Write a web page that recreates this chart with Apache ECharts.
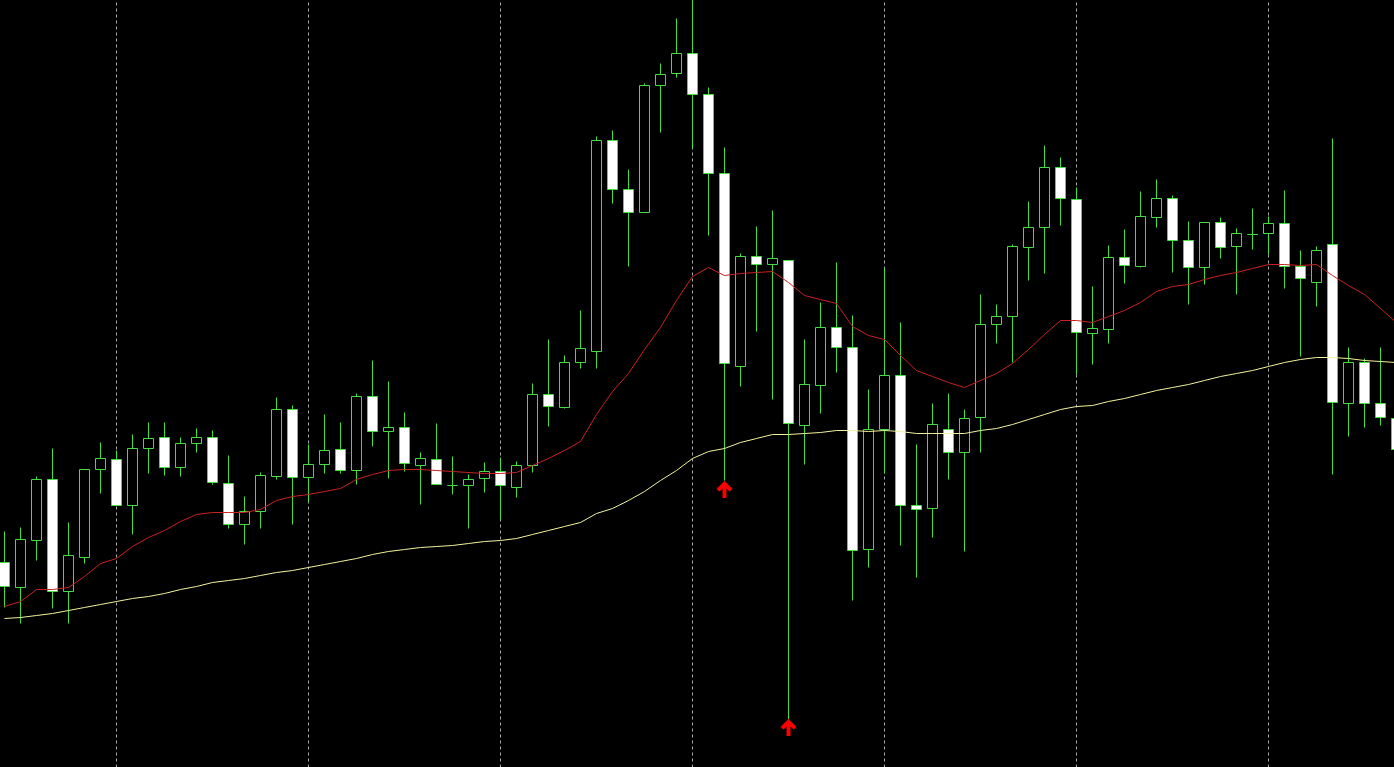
<!DOCTYPE html>
<html>
<head>
<meta charset="utf-8">
<style>
  html, body { margin: 0; padding: 0; background: #000; overflow: hidden; width: 1394px; height: 767px; }
  #chart { width: 1409px; height: 768px; margin-left: -4px; }
</style>
<script src="https://cdn.jsdelivr.net/npm/echarts@6/dist/echarts.min.js"></script>
</head>
<body>
<div id="chart"></div>
<script>
// Prices in points (no price scale is shown)
const opens = [238,213,260,321,209,243,331,341,295,352,363,333,357,363,317,276,289,324,391,323,336,351,330,404,369,373,335,341,315,315,322,329,313,335,406,393,438,449,660,611,588,715,727,747,706,627,434,544,536,540,375,415,473,453,251,371,425,295,292,371,348,383,476,484,553,573,633,601,467,471,543,534,583,602,560,533,578,554,566,567,577,534,518,556,397,438,397,382];
const closes = [214,261,321,209,245,331,342,295,352,362,333,357,363,318,276,289,325,391,323,336,350,330,404,369,373,337,342,316,315,321,329,315,335,406,394,438,452,660,611,588,715,726,747,706,627,437,544,536,542,377,416,473,453,250,371,425,295,291,376,348,382,476,484,554,573,633,602,468,472,543,535,584,602,560,533,578,553,567,566,577,534,522,550,398,438,397,383,351];
const highs = [269,273,324,352,278,331,358,350,366,378,378,363,372,370,345,304,328,403,395,356,386,378,407,440,419,388,348,377,344,326,338,343,339,417,461,445,490,664,670,631,717,737,782,802,713,653,547,574,590,540,461,498,538,485,411,532,478,356,397,407,391,506,496,556,599,655,643,613,514,555,571,609,621,605,579,578,583,572,592,584,610,550,554,662,453,442,453,390];
const lows = [193,177,240,192,177,237,307,295,266,327,325,324,348,316,272,256,272,321,276,298,327,327,316,354,322,329,296,316,306,272,308,281,303,328,374,392,432,432,597,534,588,668,723,652,565,320,414,469,401,81,336,387,428,200,233,327,255,223,263,321,249,348,457,438,520,527,575,426,436,457,517,533,573,528,496,516,542,506,551,546,512,444,494,326,364,373,375,335];
const maFast = [194,199,211,211,213,224,237,242,254,263,270,279,286,288,288,288,291,300,304,306,309,312,321,326,330,331,331,330,329,328,327,327,328,335,342,350,359,386,409,427,451,473,500,524,533,525,527,528,529,518,505,501,497,474,465,461,445,430,424,418,413,420,427,437,451,466,480,480,478,484,490,498,509,514,516,521,525,528,532,536,536,535,536,525,515,506,492,478];
const maSlow = [182,183,185,187,190,193,196,199,202,204,207,211,214,218,220,222,225,228,230,233,236,239,242,246,249,251,253,254,255,257,259,260,262,266,270,274,278,287,292,300,309,320,330,342,349,352,358,362,366,366,367,368,370,370,369,370,369,367,367,367,367,370,372,376,381,386,391,394,395,399,402,406,410,413,416,420,424,427,430,434,438,441,443,443,442,440,439,438];
const signalBars = [45, 49];
const signalPrices = [311, 73];
const gridBars = [7, 19, 31, 43, 55, 67, 79];

const categories = opens.map((_, i) => 'Bar ' + (i + 1));
const candleData = opens.map((o, i) => [o, closes[i], lows[i], highs[i]]);

const GREEN = '#44dd44';
const chart = echarts.init(document.getElementById('chart'), null, { renderer: 'canvas' });
chart.setOption({
  backgroundColor: '#000000',
  animation: false,
  grid: { left: 0.5, right: 0.5, top: 0.5, bottom: 0.5, containLabel: false },
  xAxis: {
    type: 'category', data: categories, boundaryGap: true,
    axisLine: { show: false }, axisTick: { show: false }, axisLabel: { show: false }, splitLine: { show: false }
  },
  yAxis: {
    type: 'value', min: 33, max: 800,
    axisLine: { show: false }, axisTick: { show: false }, axisLabel: { show: false }, splitLine: { show: false }
  },
  series: [
    {
      type: 'line', data: [], z: 1, silent: true,
      markLine: {
        z: 1, silent: true, symbol: ['none', 'none'], label: { show: false },
        lineStyle: { color: '#a8a8a8', type: [3, 3], width: 1 },
        data: gridBars.map(b => ({ xAxis: categories[b] }))
      }
    },
    {
      type: 'candlestick',
      data: candleData,
      barWidth: 10,
      z: 3,
      itemStyle: {
        color: '#000000', color0: '#ffffff',
        borderColor: GREEN, borderColor0: GREEN, borderColorDoji: GREEN, borderWidth: 1
      }
    },
    {
      type: 'line', data: maFast, showSymbol: false, z: 4,
      lineStyle: { color: '#cc2020', width: 1 }
    },
    {
      type: 'line', data: maSlow, showSymbol: false, z: 4,
      lineStyle: { color: '#f2f29a', width: 1 }
    },
    {
      type: 'scatter', z: 5,
      data: signalBars.map((b, i) => [categories[b], signalPrices[i]]),
      symbol: 'path://M8.5,0 L17,8.5 L13.8,11.2 L10.6,8 L10.6,18 L6.4,18 L6.4,8 L3.2,11.2 L0,8.5 Z',
      symbolSize: [16, 17],
      itemStyle: { color: '#ff0000', opacity: 1 }
    }
  ]
});
</script>
</body>
</html>
